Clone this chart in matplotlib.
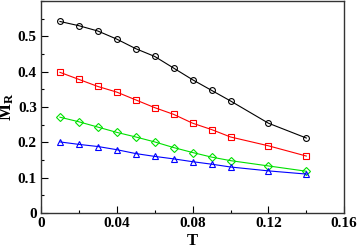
import numpy as np
import matplotlib.pyplot as plt
from matplotlib.ticker import MultipleLocator

plt.rcParams['font.family'] = ['Liberation Serif', 'DejaVu Serif']
plt.rcParams['font.weight'] = 'bold'
plt.rcParams['mathtext.fontset'] = 'custom'
plt.rcParams['mathtext.rm'] = 'Liberation Serif:bold'
plt.rcParams['mathtext.it'] = 'Liberation Serif:bold'
plt.rcParams['mathtext.bf'] = 'Liberation Serif:bold'

T = [0.01, 0.02, 0.03, 0.04, 0.05, 0.06, 0.07, 0.08, 0.09, 0.10, 0.12, 0.14]
m_black = [0.542, 0.530, 0.515, 0.492, 0.465, 0.443, 0.410, 0.377, 0.347, 0.317, 0.254, 0.212]
m_red = [0.398, 0.378, 0.358, 0.342, 0.320, 0.298, 0.279, 0.254, 0.236, 0.215, 0.190, 0.161]
m_green = [0.271, 0.258, 0.243, 0.228, 0.215, 0.201, 0.185, 0.171, 0.158, 0.148, 0.133, 0.118]
m_blue = [0.201, 0.194, 0.188, 0.179, 0.168, 0.160, 0.153, 0.145, 0.138, 0.130, 0.119, 0.110]

fig = plt.figure(figsize=(3.58, 2.47), dpi=100)
ax = fig.add_axes([0.1145, 0.138, 0.847, 0.858])

style = dict(lw=0.8, ms=4.2, mfc='none', mew=0.8)
ax.plot(T, m_black, 'o-', color='black', **style)
ax.plot(T, m_red, 's-', color='red', **style)
ax.plot(T, m_green, 'D-', color='#00e000', ms=3.6, lw=0.8, mfc='none', mew=0.8)
ax.plot(T, m_blue, '^-', color='blue', **style)

ax.set_xlim(0, 0.16)
ax.set_ylim(0, 0.6)
ax.xaxis.set_minor_locator(MultipleLocator(0.02))
ax.yaxis.set_minor_locator(MultipleLocator(0.05))
ax.set_xticks([0, 0.04, 0.08, 0.12, 0.16])
ax.set_xticklabels(['0', '0.04', '0.08', '0.12', '0.16'])
ax.set_yticks([0, 0.1, 0.2, 0.3, 0.4, 0.5])
ax.set_yticklabels(['0', '0.1', '0.2', '0.3', '0.4', '0.5'])
ax.tick_params(which='both', direction='in', labelsize=11, width=0.8)
ax.tick_params(which='major', length=5, pad=3)
ax.tick_params(which='minor', length=2.5)
for s in ax.spines.values():
    s.set_linewidth(1.0)
    s.set_color('#333333')

ax.set_xlabel('T', fontsize=12, fontweight='bold', labelpad=2)
ax.set_ylabel(r'M$_\mathbf{R}$', fontsize=13, fontweight='bold', labelpad=1)

fig.savefig('out.png', dpi=100)
